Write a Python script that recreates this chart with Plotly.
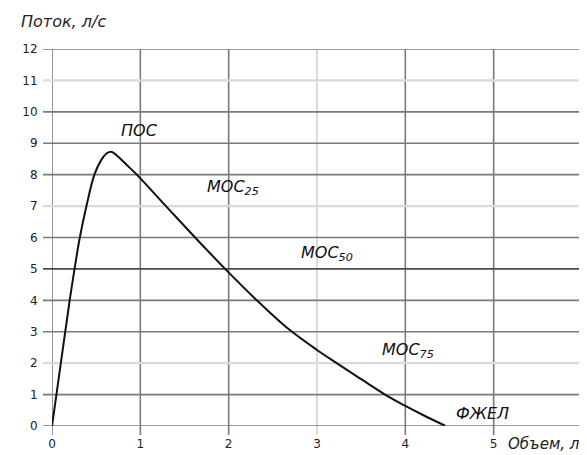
import plotly.graph_objects as go

# Flow-volume curve (volume, L ; flow, L/s)
volume = [0, 0.05, 0.10, 0.15, 0.20, 0.255, 0.315, 0.39, 0.48, 0.56, 0.62, 0.67, 0.73,
          0.85, 0.96, 1.29, 1.62, 1.96, 2.30, 2.65, 3.00, 3.24, 3.50, 3.77, 4.00, 4.20, 4.45]
flow = [0, 1.0, 2.0, 3.0, 4.0, 5.0, 6.0, 7.0, 8.0, 8.48, 8.68, 8.73, 8.62,
        8.3, 8.0, 7.0, 6.0, 5.0, 4.05, 3.15, 2.42, 1.97, 1.49, 1.0, 0.64, 0.35, 0.01]

x_ticks = [0, 1, 2, 3, 4, 5, 6]
x_tick_labels = ["0", "1", "2", "3", "4", "5", ""]
y_ticks = list(range(0, 13))
y_tick_labels = [str(v) for v in y_ticks]

light_x = [3]
light_y = [2, 7, 11]
heavy_y = [5]

labels_text = ["ПОС", "МОС<sub>25</sub>", "МОС<sub>50</sub>", "МОС<sub>75</sub>", "ФЖЕЛ"]
labels_x = [0.99, 2.05, 3.11, 4.03, 4.87]
labels_y = [9.42, 7.6, 5.5, 2.39, 0.41]

FONT = "DejaVu Sans"
DARK = "#7a7a7a"
LIGHT = "#dadada"
HEAVY = "#4a4a4a"

fig = go.Figure()
fig.add_trace(go.Scatter(x=volume, y=flow, mode="lines",
                         line=dict(color="#111", width=2, shape="spline", smoothing=1.0),
                         hoverinfo="skip", showlegend=False))

shapes = []
tick_x = -9 / 530
tick_y = -9 / 382
for v in x_ticks:
    col = LIGHT if v in light_x else DARK
    shapes.append(dict(type="line", xref="x", yref="paper", x0=v, x1=v, y0=tick_y, y1=1,
                       line=dict(color=col, width=2 if v in light_x else 1.6), layer="below"))
for v in y_ticks:
    if v in light_y:
        col, w = LIGHT, 2.2
    elif v in heavy_y:
        col, w = HEAVY, 1.8
    else:
        col, w = DARK, 1.6
    shapes.append(dict(type="line", xref="paper", yref="y", x0=tick_x, x1=1, y0=v, y1=v,
                       line=dict(color=col, width=w), layer="below"))

annotations = []
for t, ax, ay in zip(labels_text, labels_x, labels_y):
    annotations.append(dict(x=ax, y=ay, xref="x", yref="y", text="<i>" + t + "</i>",
                            showarrow=False, font=dict(family=FONT, size=16, color="#111")))
annotations.append(dict(x=-33 / 530, y=1 + 28 / 382, xref="paper", yref="paper",
                        xanchor="left", yanchor="middle", text="<i>Поток, л/с</i>",
                        showarrow=False, font=dict(family=FONT, size=16, color="#222")))
annotations.append(dict(x=(498 - 44) / 530, y=-18 / 382, xref="paper", yref="paper",
                        xanchor="left", yanchor="middle", text="<i>Объем, л</i>",
                        showarrow=False, font=dict(family=FONT, size=15, color="#222")))

fig.update_layout(
    width=587, height=455,
    margin=dict(l=44, r=13, t=41, b=32),
    paper_bgcolor="white", plot_bgcolor="white",
    shapes=shapes, annotations=annotations,
    xaxis=dict(range=[0, 6], tickvals=x_ticks, ticktext=x_tick_labels, showgrid=False,
               zeroline=False, showline=False, ticks="outside", ticklen=7,
               tickcolor="rgba(0,0,0,0)", tickfont=dict(family=FONT, size=12, color="#222"),
               fixedrange=True),
    yaxis=dict(range=[0, 12], tickvals=y_ticks, ticktext=y_tick_labels, showgrid=False,
               zeroline=False, showline=False, ticks="outside", ticklen=11,
               tickcolor="rgba(0,0,0,0)", tickfont=dict(family=FONT, size=12, color="#222"),
               fixedrange=True),
)

fig.write_html("out.html")
